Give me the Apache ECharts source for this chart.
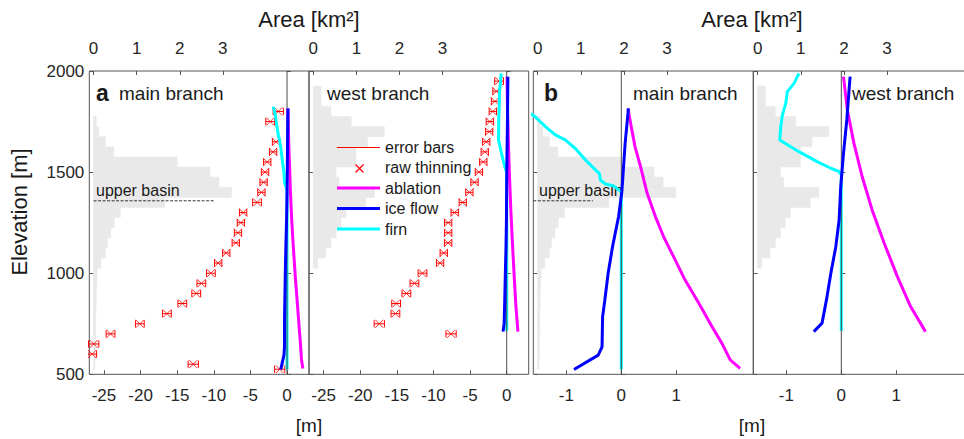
<!DOCTYPE html>
<html><head><meta charset="utf-8">
<script src="https://cdn.jsdelivr.net/npm/echarts@6/dist/echarts.min.js"></script>
<style>html,body{margin:0;padding:0;background:#fff}#c{width:964px;height:439px}</style>
</head><body><div id="c"></div>
<script>
// ---------- tick labels ----------
const elevTicks = [500, 1000, 1500, 2000];
const aTicks = [-25, -20, -15, -10, -5, 0];
const bTicks = [-1, 0, 1];
const areaTicks = [0, 1, 2, 3];

// ---------- legend entries ----------
const legendNames = ['error bars', 'raw thinning', 'ablation', 'ice flow', 'firn'];

// ---------- area histograms (bin centres, 50 m bins) ----------
const binHalf = 25;
const mainHistElev = [1750,1700,1650,1600,1550,1500,1450,1400,1350,1300,1250,1200,1150,1100,1050,1000,950,900,850,800,750,700,650,600,550];
const mainHistArea = [0.06,0.12,0.27,0.47,1.94,2.70,2.91,3.20,1.65,0.62,0.48,0.40,0.32,0.27,0.17,0.08,0.07,0.06,0.06,0.05,0.05,0.05,0.04,0.04,0.03];
const westHistElev = [1900,1850,1800,1750,1700,1650,1600,1550,1500,1450,1400,1350,1300,1250,1200,1150,1100,1050];
const westHistArea = [0.18,0.18,0.41,0.88,1.65,1.26,0.99,0.99,0.53,0.60,1.42,1.22,0.76,0.64,0.53,0.41,0.29,0.10];

// ---------- raw thinning [m] with error bars ----------
const mainRawElev = [1800,1750,1650,1600,1550,1500,1450,1400,1350,1300,1250,1200,1150,1100,1050,1000,950,900,850,800,750,700,650,600,550,525];
const mainRawThin = [-1.2,-2.3,-1.5,-1.9,-2.7,-3.0,-3.2,-3.5,-4.1,-6.0,-6.3,-6.7,-7.0,-8.3,-9.4,-10.4,-11.7,-12.4,-14.3,-16.4,-20.1,-24.1,-26.4,-26.6,-12.8,-1.0];
const mainRawErr  = [0.7,0.6,0.5,0.5,0.5,0.5,0.5,0.5,0.6,0.5,0.5,0.5,0.5,0.5,0.5,0.6,0.6,0.6,0.6,0.6,0.6,0.6,0.7,0.6,0.7,0.7];
const westRawElev = [1950,1900,1850,1800,1750,1700,1650,1600,1550,1500,1450,1400,1350,1300,1250,1200,1150,1100,1050,1000,950,900,850,800,750,700];
const westRawThin = [-1.05,-1.4,-1.6,-1.9,-2.3,-2.4,-2.8,-3.0,-3.2,-3.8,-4.4,-5.1,-6.0,-7.1,-8.0,-8.0,-8.0,-8.6,-9.1,-11.5,-12.6,-13.7,-15.1,-15.2,-17.4,-7.6];
const westRawErr  = [0.6,0.5,0.5,0.5,0.5,0.5,0.5,0.5,0.5,0.5,0.5,0.5,0.5,0.5,0.5,0.5,0.5,0.5,0.5,0.6,0.6,0.6,0.6,0.6,0.7,0.7];

// ---------- modelled components [m] ----------
const mainAblElev  = [1815,1725,1625,1527,1395,1280,1180,1082,966,851,735,653,571,529];
const mainAbl      = [0.12,0.18,0.25,0.35,0.47,0.62,0.77,0.95,1.16,1.41,1.65,1.83,1.98,2.16];
const mainIceElev  = [1815,1643,1402,1279,1130,998,866,784,636,595,524];
const mainIce      = [0.13,0.07,0.01,-0.05,-0.16,-0.24,-0.30,-0.34,-0.35,-0.42,-0.86];
const mainFirnElev = [1823,1777,1725,1684,1659,1618,1560,1511,1494,1461,1441,1431,1402,524];
const mainFirn     = [-1.87,-1.58,-1.38,-1.20,-1.02,-0.84,-0.65,-0.47,-0.40,-0.38,-0.29,-0.14,0,0];
const westAblElev  = [1972,1807,1642,1477,1313,1148,983,835,711];
const westAbl      = [0.04,0.11,0.23,0.38,0.56,0.78,1.02,1.26,1.53];
const westIceElev  = [1972,1758,1593,1428,1263,1131,1000,868,753,711];
const westIce      = [0.16,0.10,0.04,-0.01,-0.04,-0.10,-0.19,-0.27,-0.35,-0.50];
const westFirnElev = [1988,1939,1898,1840,1783,1725,1659,1601,1552,1519,1502,1486,715];
const westFirn     = [-0.77,-0.86,-0.98,-1.01,-1.07,-1.10,-1.12,-0.77,-0.44,-0.19,-0.04,0,0];

// ---------- upper basin boundary ----------
const upperBasinElev = 1358;

// ================= chart =================
const FONT = '"Liberation Sans", Arial, Helvetica, sans-serif';
const AX = '#555';
const TXT = '#262626';
const RED = '#ff0000', MAG = '#ff00ff', BLUE = '#0000ff', CYAN = '#00ffff';
const zip = (xs, ys) => xs.map((x, k) => [x, ys[k]]);
const GAP = ['-', '-'];

function errorBarData(xs, ys, es, cap) {
  const d = [];
  xs.forEach((x, k) => {
    const y = ys[k], e = es[k];
    d.push([x - e, y], [x + e, y], GAP);
    d.push([x - e, y - cap], [x - e, y + cap], GAP);
    d.push([x + e, y - cap], [x + e, y + cap], GAP);
  });
  return d;
}

const panels = [
  {left: 89.3, width: 219.7, range: [-27, 3], ticks: aTicks, branch: 'main', raw: true, basin: [0, 2.79], yLabels: true},
  {left: 309.0, width: 219.7, range: [-27, 3], ticks: aTicks, branch: 'west', raw: true, basin: null, yLabels: false},
  {left: 533.3, width: 220.0, range: [-1.6, 2.4], ticks: bTicks, branch: 'main', raw: false, basin: [-0.1, 1.28], yLabels: false},
  {left: 753.3, width: 220.0, range: [-1.6, 2.4], ticks: bTicks, branch: 'west', raw: false, basin: null, yLabels: false}
];

const data = {
  main: {hE: mainHistElev, hA: mainHistArea, rE: mainRawElev, rT: mainRawThin, rErr: mainRawErr,
         abl: zip(mainAbl, mainAblElev), ice: zip(mainIce, mainIceElev), firn: zip(mainFirn, mainFirnElev)},
  west: {hE: westHistElev, hA: westHistArea, rE: westRawElev, rT: westRawThin, rErr: westRawErr,
         abl: zip(westAbl, westAblElev), ice: zip(westIce, westIceElev), firn: zip(westFirn, westFirnElev)}
};

const grids = [], xAxes = [], yAxes = [], series = [];
const tick = (vals) => {
  const t = {show: true, inside: true, length: 4, lineStyle: {color: AX, width: 1}};
  if (vals) t.customValues = vals;
  return t;
};
const lab = (show, vals, margin) => {
  const l = {show: show, fontSize: 17, color: TXT, fontFamily: FONT, margin: margin, formatter: (v) => String(v)};
  if (vals) l.customValues = vals;
  return l;
};

panels.forEach((p, i) => {
  grids.push({left: p.left, top: 71, width: p.width, height: 303.3, show: true,
              borderColor: AX, borderWidth: 1, containLabel: false, outerBoundsMode: 'none'});
  xAxes.push({gridIndex: i, type: 'value', position: 'bottom', min: p.range[0], max: p.range[1],
              axisLine: {show: false}, splitLine: {show: false},
              axisTick: tick(p.ticks), axisLabel: lab(true, p.ticks, 13)});
  xAxes.push({gridIndex: i, type: 'value', position: 'top', min: -0.1, max: 5,
              axisLine: {show: false}, splitLine: {show: false},
              axisTick: tick(areaTicks), axisLabel: lab(true, areaTicks, 14)});
  yAxes.push({gridIndex: i, type: 'value', position: 'left', min: elevTicks[0], max: elevTicks[elevTicks.length - 1], interval: 500,
              axisLine: {show: false}, splitLine: {show: false},
              axisTick: tick(), axisLabel: lab(p.yLabels, null, 5)});
  yAxes.push({gridIndex: i, type: 'value', position: 'right', min: elevTicks[0], max: elevTicks[elevTicks.length - 1], interval: 500,
              axisLine: {show: false}, splitLine: {show: false},
              axisTick: tick(), axisLabel: {show: false}});

  const d = data[p.branch];
  const xm = 2 * i, xa = 2 * i + 1, yl = 2 * i;

  // histogram of glacier area per elevation band
  series.push({type: 'custom', name: 'area', xAxisIndex: xa, yAxisIndex: yl, clip: true, z: 1, silent: true,
    data: zip(d.hA, d.hE),
    renderItem: (params, api) => {
      const a = api.value(0), e = api.value(1);
      const p0 = api.coord([0, e + binHalf]);
      const p1 = api.coord([a, e - binHalf]);
      return {type: 'rect', shape: {x: p0[0], y: p0[1], width: p1[0] - p0[0], height: p1[1] - p0[1]},
              style: {fill: '#e9e9e9', stroke: '#e9e9e9', lineWidth: 0.6}};
    }
  });

  if (p.basin) {
    series.push({type: 'line', name: 'upper basin', xAxisIndex: xa, yAxisIndex: yl, z: 3, silent: true,
      symbol: 'none', data: [[p.basin[0], upperBasinElev], [p.basin[1], upperBasinElev]],
      lineStyle: {color: '#333', width: 1, type: [3, 1.5]}});
  }

  if (p.raw) {
    series.push({type: 'line', name: legendNames[0], xAxisIndex: xm, yAxisIndex: yl, z: 4, silent: true,
      symbol: 'none', connectNulls: false, data: errorBarData(d.rT, d.rE, d.rErr, 18),
      lineStyle: {color: RED, width: 1}, itemStyle: {color: RED}});
    series.push({type: 'scatter', name: legendNames[1], xAxisIndex: xm, yAxisIndex: yl, z: 5, silent: true,
      symbol: 'path://M0,0L10,10M10,0L0,10', symbolSize: 8, data: zip(d.rT, d.rE),
      itemStyle: {color: 'rgba(0,0,0,0)', borderColor: RED, borderWidth: 1}});
  }

  const lineS = (name, arr, color, z) => ({type: 'line', name: name, xAxisIndex: xm, yAxisIndex: yl, z: z,
    silent: true, symbol: 'none', showSymbol: false, data: arr,
    lineStyle: {color: color, width: 3}, itemStyle: {color: color}});
  series.push(lineS(legendNames[4], d.firn, CYAN, 6));
  // zero line (drawn over the firn line, as in the original)
  series.push({type: 'line', name: 'zero', xAxisIndex: xm, yAxisIndex: yl, z: 6, silent: true, symbol: 'none',
    data: [[0, elevTicks[0]], [0, elevTicks[elevTicks.length - 1]]], lineStyle: {color: '#4a4a4a', width: 1}});
  series.push(lineS(legendNames[2], d.abl, MAG, 7));
  series.push(lineS(legendNames[3], d.ice, BLUE, 8));
});

const txt = (x, y, text, size, opts, z) => ({type: 'text', x: x, y: y, z: z || 100, silent: true,
  style: Object.assign({text: text, fontSize: size, fontFamily: FONT, fill: '#1a1a1a', align: 'left', verticalAlign: 'middle'}, opts || {})});

const graphics = [
  txt(96, 93, 'a', 23, {fontWeight: 'bold'}),
  txt(119, 93, 'main branch', 19),
  txt(327, 93, 'west branch', 19),
  txt(544, 93, 'b', 23, {fontWeight: 'bold'}),
  txt(633, 93, 'main branch', 19),
  txt(852, 93, 'west branch', 19),
  txt(96, 190, 'upper basin', 16, null, 3),
  txt(539, 190, 'upper basin', 16, null, 3),
  txt(309, 19, 'Area [km²]', 22, {align: 'center'}),
  txt(752, 19, 'Area [km²]', 22, {align: 'center'}),
  txt(309, 425, '[m]', 19, {align: 'center'}),
  txt(752, 425, '[m]', 19, {align: 'center'}),
  Object.assign(txt(19, 212, 'Elevation [m]', 22, {align: 'center'}), {rotation: Math.PI / 2})
];

// legend (key) inside the west-branch panel of (a)
const LX = 337, LW = 43, LY0 = 147, LDY = 20.5;
const legendStyles = [
  {stroke: RED, w: 1, kind: 'line'},
  {stroke: RED, w: 1.2, kind: 'x'},
  {stroke: MAG, w: 3, kind: 'line'},
  {stroke: BLUE, w: 3, kind: 'line'},
  {stroke: CYAN, w: 3, kind: 'line'}
];
legendNames.forEach((name, k) => {
  const y = LY0 + k * LDY, s = legendStyles[k];
  if (s.kind === 'line') {
    const yy = s.w === 1 ? Math.round(y) + 0.5 : y;
    graphics.push({type: 'line', z: 100, silent: true, shape: {x1: LX, y1: yy, x2: LX + LW, y2: yy},
                   style: {stroke: s.stroke, lineWidth: s.w}});
  } else {
    const cx = Math.round(LX + LW / 2) + 0.5, cy = Math.round(y) + 0.5, h = 4;
    graphics.push({type: 'line', z: 100, silent: true, shape: {x1: cx - h, y1: cy - h, x2: cx + h, y2: cy + h},
                   style: {stroke: s.stroke, lineWidth: s.w}});
    graphics.push({type: 'line', z: 100, silent: true, shape: {x1: cx - h, y1: cy + h, x2: cx + h, y2: cy - h},
                   style: {stroke: s.stroke, lineWidth: s.w}});
  }
  graphics.push(txt(LX + LW + 5, y, name, 16));
});

const chart = echarts.init(document.getElementById('c'), null, {renderer: 'svg', width: 964, height: 439});
chart.setOption({
  animation: false,
  backgroundColor: '#fff',
  grid: grids, xAxis: xAxes, yAxis: yAxes, series: series,
  graphic: {elements: graphics}
});
</script>
</body></html>
